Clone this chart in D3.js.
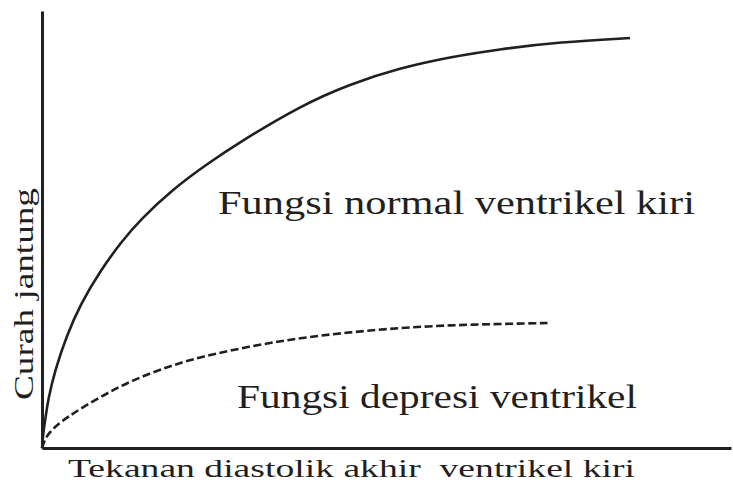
<!DOCTYPE html>
<html>
<head>
<meta charset="utf-8">
<script src="https://cdn.jsdelivr.net/npm/d3@7"></script>
<style>
  html, body { margin: 0; padding: 0; background: #fff; }
  svg { display: block; }
</style>
</head>
<body>
<script>
// Frank-Starling style curves: cardiac output vs. LV end-diastolic pressure (arbitrary units)
const normalPressure = [0, 0.22, 0.51, 0.87, 1.89, 3.63, 5.52, 8.42, 11.61, 14.22, 19.01, 23.95, 28.74, 37.45, 44.70, 51.96, 59.22, 66.47, 75.18, 85.34];
const normalOutput   = [0, 4.12, 6.86, 10.98, 17.85, 25.86, 32.72, 40.50, 47.37, 52.17, 59.27, 64.99, 70.02, 78.26, 83.30, 86.96, 89.47, 91.30, 92.90, 93.82];

const depressedPressure = [0, 0.73, 3.6, 8.4, 13.2, 18.6, 22.9, 30.2, 37.5, 44.7, 52.0, 59.2, 66.5, 73.7];
const depressedOutput   = [0, 3.4, 7.1, 11.7, 15.6, 18.8, 20.8, 23.3, 25.2, 26.5, 27.5, 28.1, 28.4, 28.6];

const xAxisLabel = "Tekanan diastolik akhir\u00a0 ventrikel kiri";
const yAxisLabel = "Curah jantung";
const normalLabel = "Fungsi normal ventrikel kiri";
const depressedLabel = "Fungsi depresi ventrikel";

const W = 733, H = 485;
const ink = "#231f20";
const serif = "'Liberation Serif', Tinos, 'Times New Roman', Times, 'DejaVu Serif', serif";

const svg = d3.select("body").append("svg")
  .attr("width", W).attr("height", H)
  .style("font-family", serif);

const x = d3.scaleLinear().domain([0, 100]).range([42, 731]);
const y = d3.scaleLinear().domain([0, 100]).range([448, 11]);

// axes without ticks, just the bare lines
svg.append("g").attr("transform", `translate(0,${y(0)})`)
  .call(d3.axisBottom(x).ticks(0).tickSizeOuter(0));
svg.append("g").attr("transform", `translate(${x(0)},0)`)
  .call(d3.axisLeft(y).ticks(0).tickSizeOuter(0));
svg.selectAll(".domain").attr("stroke", ink).attr("stroke-width", 3);

const line = d3.line()
  .x(d => x(d[0]))
  .y(d => y(d[1]))
  .curve(d3.curveBasis);

const normal = normalPressure.map((p, i) => [p, normalOutput[i]]);
const depressed = depressedPressure.map((p, i) => [p, depressedOutput[i]]);

svg.append("path").datum(normal)
  .attr("d", line)
  .attr("fill", "none").attr("stroke", ink).attr("stroke-width", 2.6);

svg.append("path").datum(depressed)
  .attr("d", line)
  .attr("fill", "none").attr("stroke", ink).attr("stroke-width", 2.6)
  .attr("stroke-dasharray", "8,3.5");

function label(txt, size, len) {
  return svg.append("text")
    .style("font-family", serif)
    .attr("fill", ink)
    .attr("font-size", size)
    .attr("textLength", len).attr("lengthAdjust", "spacingAndGlyphs")
    .text(txt);
}

// curve annotations
label(normalLabel, 34, 477).attr("x", 218).attr("y", 214);
label(depressedLabel, 34, 400).attr("x", 237).attr("y", 408);

// axis titles
label(xAxisLabel, 26, 567).attr("x", 68).attr("y", 477);
label(yAxisLabel, 27, 212).attr("transform", "translate(33,400) rotate(-90)");
</script>
</body>
</html>
